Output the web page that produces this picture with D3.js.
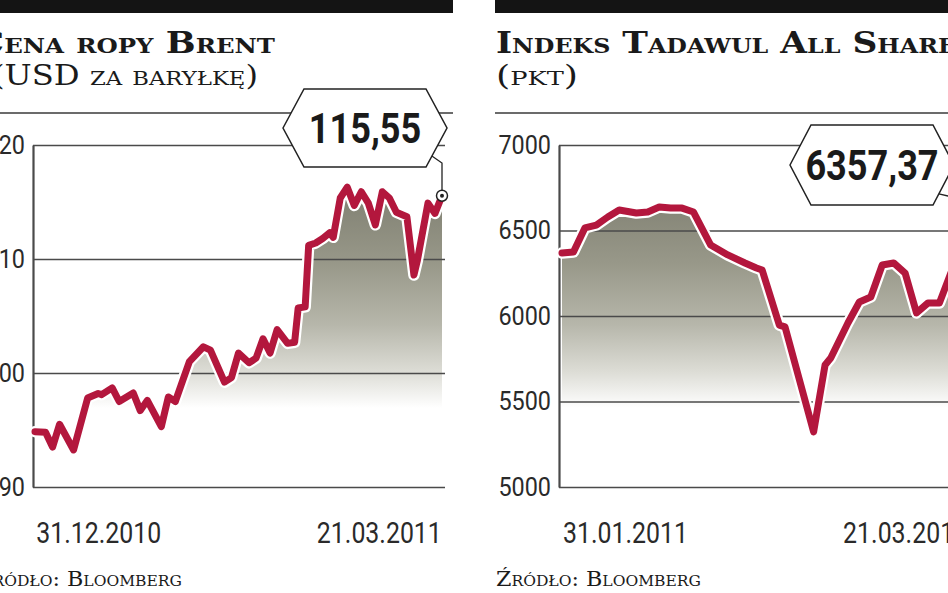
<!DOCTYPE html>
<html><head><meta charset="utf-8">
<script src="https://cdn.jsdelivr.net/npm/d3@7"></script>
<style>
body{margin:0;background:#fff;overflow:hidden}
svg{display:block}
</style></head><body>
<svg id="c" width="948" height="593"></svg>
<script>
// ---------- DATA ----------
const brentDates = ["2010-12-13","2010-12-16","2010-12-18","2010-12-20","2010-12-24","2010-12-28","2010-12-31",
 "2011-01-01","2011-01-04","2011-01-06","2011-01-10","2011-01-12","2011-01-14","2011-01-18","2011-01-20","2011-01-22","2011-01-26","2011-01-30",
 "2011-02-01","2011-02-05","2011-02-07","2011-02-09","2011-02-12","2011-02-14","2011-02-16","2011-02-18","2011-02-20","2011-02-23","2011-02-25","2011-02-26","2011-02-28",
 "2011-03-01","2011-03-03","2011-03-05","2011-03-07","2011-03-08","2011-03-10","2011-03-12","2011-03-14","2011-03-16","2011-03-18","2011-03-20","2011-03-22","2011-03-24","2011-03-26","2011-03-29","2011-03-31",
 "2011-04-01","2011-04-04","2011-04-06","2011-04-08"];
const brentValues = [94.85,94.8,93.5,95.5,93.25,97.8,98.2,
 98.1,98.7,97.5,98.25,96.7,97.6,95.3,97.9,97.5,101.0,102.3,
 102.0,99.2,99.6,101.75,100.9,101.3,103.0,101.75,103.8,102.6,102.7,105.7,105.8,
 111.2,111.4,111.8,112.3,111.9,115.35,116.3,114.7,115.9,114.9,113.0,115.9,115.35,114.1,113.7,108.6,
 109.9,114.9,114.0,115.55];
const brentYTicks = [90,100,110,120];
const brentDateTicks = ["2010-12-31","2011-03-21"];
const brentLastLabel = "115,55";

const tasiDates = ["2011-01-20","2011-01-22","2011-01-24","2011-01-26","2011-01-28","2011-01-30",
 "2011-02-02","2011-02-04","2011-02-06","2011-02-08","2011-02-10","2011-02-12","2011-02-15","2011-02-18","2011-02-21","2011-02-23","2011-02-24","2011-02-27","2011-02-28",
 "2011-03-05","2011-03-07","2011-03-08","2011-03-11","2011-03-13","2011-03-15","2011-03-17","2011-03-19","2011-03-21","2011-03-23","2011-03-25","2011-03-27","2011-03-29","2011-03-30",
 "2011-04-01"];
const tasiValues = [6368,6374,6515,6532,6579,6620,
 6602,6608,6637,6631,6631,6608,6415,6357,6310,6281,6269,5947,5936,
 5322,5713,5754,5959,6082,6111,6298,6310,6251,6018,6076,6076,6251,6330,
 6357.37];
const tasiYTicks = [5000,5500,6000,6500,7000];
const tasiDateTicks = ["2011-01-31","2011-03-21"];
const tasiLastLabel = "6357,37";

const titles = ["Cena ropy Brent","Indeks Tadawul All Share"];
const subtitles = ["(USD za baryłkę)","(pkt)"];
const sourceText = "Źródło: Bloomberg";

// ---------- LAYOUT ----------
const parse = d3.timeParse("%Y-%m-%d");
const fmt = d3.timeFormat("%d.%m.%Y");
const LINE = "#b3173d";
const GRID = "#4a4a4a";
const TOP = 145, BOT = 487;

const panels = [
 {axisX:33, plotR:445, lineX0:35, lineX1:442, barX0:-40, barX1:453,
  title:{x:-24,len:299}, sub:{x:-8,len:266}, src:{x:-23,len:205},
  dates:brentDates, values:brentValues, yTicks:brentYTicks, yDomain:[90,120],
  xTicks:brentDateTicks, last:brentLastLabel, callout:{cx:365,cy:128,w:164,h:78}},
 {axisX:559, plotR:971, lineX0:562, lineX1:968, barX0:495, barX1:1000,
  title:{x:496,len:460}, sub:{x:496,len:82}, src:{x:496,len:205},
  dates:tasiDates, values:tasiValues, yTicks:tasiYTicks, yDomain:[5000,7000],
  xTicks:tasiDateTicks, last:tasiLastLabel, callout:{cx:872,cy:165,w:164,h:80}}
];

const svg = d3.select("#c");
const defs = svg.append("defs");
const grad = defs.append("linearGradient").attr("id","fillGrad")
  .attr("gradientUnits","userSpaceOnUse").attr("x1",0).attr("x2",0).attr("y1",TOP).attr("y2",408);
[[0,"#77776a"],[0.2,"#828274"],[0.45,"#989889"],[0.68,"#b6b6aa"],[0.86,"#dcdcd5"],[1,"#ffffff"]]
 .forEach(([o,c])=>grad.append("stop").attr("offset",o).attr("stop-color",c));

panels.forEach((p,i)=>{
  const g = svg.append("g");
  // top black bar
  g.append("rect").attr("x",p.barX0).attr("y",0).attr("width",p.barX1-p.barX0).attr("height",13).attr("fill","#141414");
  // title
  g.append("text").text(titles[i]).attr("x",p.title.x).attr("y",53)
    .attr("textLength",p.title.len).attr("lengthAdjust","spacingAndGlyphs")
    .style("font-family","'DejaVu Serif', serif").style("font-weight","bold")
    .style("font-variant","small-caps").style("font-size","29px").attr("fill","#1a1a1a");
  g.append("text").text(subtitles[i]).attr("x",p.sub.x).attr("y",85)
    .attr("textLength",p.sub.len).attr("lengthAdjust","spacingAndGlyphs")
    .style("font-family","'DejaVu Serif', serif").style("font-weight","normal")
    .style("font-variant","small-caps").style("font-size","27px").attr("fill","#1a1a1a");
  // rule
  g.append("line").attr("x1",p.barX0).attr("x2",p.barX1).attr("y1",113).attr("y2",113)
    .attr("stroke","#3a3a3a").attr("stroke-width",1.6);

  const dts = p.dates.map(parse);
  const x = d3.scaleTime().domain([dts[0],dts[dts.length-1]]).range([p.lineX0,p.lineX1]);
  const y = d3.scaleLinear().domain(p.yDomain).range([BOT,TOP]);
  const pts = dts.map((d,k)=>({d, v:p.values[k]}));

  // fill
  const area = d3.area().x(d=>x(d.d)).y0(BOT).y1(d=>y(d.v));
  g.append("path").datum(pts).attr("d",area).attr("fill","url(#fillGrad)");

  // y axis with grid
  const ya = d3.axisLeft(y).tickValues(p.yTicks).tickFormat(d3.format("d"))
    .tickSize(-(p.plotR-p.axisX)).tickSizeOuter(0).tickPadding(8);
  const yg = g.append("g").attr("transform",`translate(${p.axisX},0)`).call(ya);
  yg.select(".domain").attr("stroke",GRID).attr("stroke-width",2.2);
  yg.selectAll(".tick line").attr("stroke",GRID).attr("stroke-width",1.6);
  yg.selectAll(".tick text").attr("x",-8/0.9).attr("transform","scale(0.9,1)")
    .attr("fill","#2a2a2a").style("font-family","Roboto, 'Liberation Sans', sans-serif")
    .style("font-size","26px").style("font-weight","400");

  // x labels
  const xa = d3.axisBottom(x).tickValues(p.xTicks.map(parse)).tickFormat(fmt).tickSize(0);
  const xg = g.append("g").attr("transform",`translate(0,${BOT})`).call(xa);
  xg.select(".domain").remove();
  xg.selectAll(".tick text").attr("y",0).attr("dy",null).attr("transform","translate(0,56) scale(0.83,1)")
    .attr("fill","#2a2a2a").style("font-family","Roboto, 'Liberation Sans', sans-serif")
    .style("font-size","30px");

  // line with halo
  const line = d3.line().x(d=>x(d.d)).y(d=>y(d.v));
  g.append("path").datum(pts).attr("d",line).attr("fill","none").attr("stroke","#fff")
    .attr("stroke-width",11.5).attr("stroke-linejoin","round").attr("stroke-linecap","round");
  g.append("path").datum(pts).attr("d",line).attr("fill","none").attr("stroke",LINE)
    .attr("stroke-width",7).attr("stroke-linejoin","round").attr("stroke-linecap","round");

  // callout
  const c = p.callout, hw = c.w/2, hh = c.h/2, s = 21;
  const hex = [[c.cx-hw,c.cy],[c.cx-hw+s,c.cy-hh],[c.cx+hw-s,c.cy-hh],[c.cx+hw,c.cy],[c.cx+hw-s,c.cy+hh],[c.cx-hw+s,c.cy+hh]];
  const lastP = pts[pts.length-1];
  const lx = x(lastP.d), ly = y(lastP.v);
  const sx = c.cx+hw-s*0.72, sy = c.cy+hh*0.72;
  g.append("path").attr("d",`M${sx},${sy}L${lx},${sy+7}L${lx},${ly-5}`)
    .attr("fill","none").attr("stroke","#222").attr("stroke-width",1.3);
  g.append("polygon").attr("points",hex.map(q=>q.join(",")).join(" "))
    .attr("fill","#fff").attr("stroke","#222").attr("stroke-width",1.5);
  g.append("text").text(p.last).attr("text-anchor","middle")
    .attr("transform",`translate(${c.cx},${c.cy+15}) scale(0.86,1)`)
    .style("font-family","Roboto, 'Liberation Sans', sans-serif").style("font-weight","bold")
    .style("font-size","42px").attr("fill","#1a1a1a");
  g.append("circle").attr("cx",lx).attr("cy",ly).attr("r",5.5).attr("fill","#fff").attr("stroke","#222").attr("stroke-width",1.5);
  g.append("circle").attr("cx",lx).attr("cy",ly).attr("r",2).attr("fill","#222");

  // source
  g.append("text").text(sourceText).attr("x",p.src.x).attr("y",586)
    .attr("textLength",p.src.len).attr("lengthAdjust","spacingAndGlyphs")
    .style("font-family","'DejaVu Serif', serif").style("font-variant","small-caps")
    .style("font-size","20px").attr("fill","#1a1a1a");
});
</script>
</body></html>
